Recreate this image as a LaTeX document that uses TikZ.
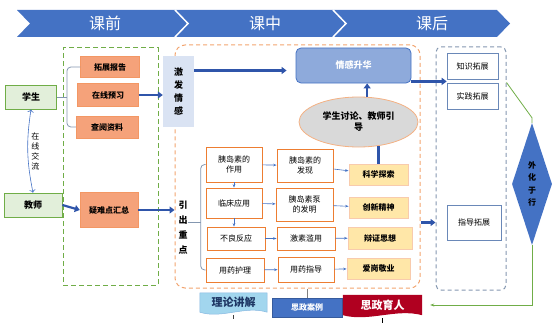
\documentclass[tikz,border=0pt]{standalone}
\usepackage{fontspec}
\setmainfont{Noto Sans CJK SC}
\usepackage{tikz}
\usetikzlibrary{arrows.meta,shapes.geometric,positioning,calc}
\definecolor{bandBlue}{RGB}{68,114,196}
\definecolor{flowBlue}{RGB}{47,85,170}
\definecolor{preGreen}{RGB}{112,173,71}
\definecolor{roleGreen}{RGB}{226,239,218}
\definecolor{midOrange}{RGB}{237,125,49}
\definecolor{taskOrange}{RGB}{245,162,122}
\definecolor{mistBlue}{RGB}{218,227,243}
\definecolor{liftBlue}{RGB}{142,170,219}
\definecolor{valueYellow}{RGB}{255,231,168}
\definecolor{postGray}{RGB}{132,151,176}
\definecolor{caseRed}{RGB}{176,0,32}
\definecolor{docBlue}{RGB}{162,214,238}
\definecolor{docInk}{RGB}{30,55,100}
\definecolor{inkGray}{RGB}{64,64,64}
\tikzset{
  phaseText/.style  = {text=white, font=\fontsize{16}{16}\selectfont},
  phaseFrame/.style = {rectangle, draw=#1, dashed, line width=1pt, inner sep=0pt},
  roleBox/.style    = {rectangle, draw=preGreen, fill=roleGreen, line width=0.8pt,
                       minimum height=24pt, font=\small\bfseries},
  taskBox/.style    = {rectangle, draw=taskOrange!70!midOrange, fill=taskOrange,
                       text=black, font=\footnotesize\bfseries, inner sep=0pt},
  upBox/.style      = {rectangle, fill=mistBlue, align=center, inner sep=0pt,
                       font=\fontsize{9}{13}\selectfont\bfseries},
  liftBox/.style    = {rectangle, rounded corners=5pt, draw=bandBlue, fill=liftBlue,
                       line width=0.8pt, text=white, font=\small\bfseries},
  talkEllipse/.style= {ellipse, draw=midOrange!60, fill=gray!30, line width=0.8pt,
                       align=center, inner sep=0pt, text=black, font=\small\bfseries},
  topicBox/.style   = {rectangle, draw=midOrange, fill=white, line width=0.8pt,
                       align=center, inner sep=0pt, font=\footnotesize},
  valueBox/.style   = {rectangle, draw=midOrange!40, fill=valueYellow, line width=0.8pt,
                       inner sep=0pt, text=black, font=\footnotesize\bfseries},
  extBox/.style     = {rectangle, draw=postGray!60!bandBlue, fill=white, line width=0.6pt,
                       inner sep=0pt, font=\footnotesize},
  tagText/.style    = {inner sep=0pt, font=\fontsize{11}{11}\selectfont\bfseries},
  flowArrow/.style  = {-{Triangle[length=5pt,width=7pt]}, line width=2.2pt, draw=flowBlue},
  thinArrow/.style  = {-{Stealth[length=3.5pt]}, draw=bandBlue, line width=0.6pt},
  braceLine/.style  = {draw=postGray, line width=0.8pt, rounded corners=4pt},
  greenLine/.style  = {draw=preGreen, line width=0.8pt},
}
\begin{document}
\begin{tikzpicture}[x=1pt, y=-1pt, font=\color{inkGray}]
  \useasboundingbox (0,0) rectangle (554,329);
  % banner
  \fill[bandBlue] (17,10) -- (497,10) -- (510,23.5) -- (497,37) -- (17,37) -- (30,23.5) -- cycle;
  \foreach \x in {175,333}{\draw[white, line width=1.5pt] (\x,10) -- (\x+13,23.5) -- (\x,37);}
  \node[phaseText] (pre)  at (105,23.5) {课前};
  \node[phaseText] (mid)  at (265,23.5) {课中};
  \node[phaseText] (post) at (432,23.5) {课后};
  % frames
  \node[phaseFrame=preGreen, dash pattern=on 5pt off 3pt,
        minimum width=95pt, minimum height=237pt] (preFrame) at (110.5,166.5) {};
  \node[phaseFrame=midOrange!70, rounded corners=10pt, dash pattern=on 4pt off 3pt,
        minimum width=245pt, minimum height=243pt] (midFrame) at (297.5,166.5) {};
  \node[phaseFrame=postGray, rounded corners=5pt, dash pattern=on 4pt off 3pt,
        minimum width=70pt, minimum height=243pt] (postFrame) at (471,168.5) {};
  % before class
  \node[roleBox, minimum width=51pt] (student) at (31,97) {学生};
  \node[roleBox, minimum width=58pt] (teacher) at (33,205) {教师};
  \node[taskBox, minimum width=59pt, minimum height=21pt] (tuozhan) at (110,67) {拓展报告};
  \node[taskBox, minimum width=61pt, minimum height=23pt] (zaixian) at (108,95) {在线预习};
  \node[taskBox, minimum width=62pt, minimum height=22pt] (chayue) at (107,127) {查阅资料};
  \node[taskBox, minimum width=58pt, minimum height=35pt] (yinan) at (109,210) {疑难点汇总};
  \draw[thinArrow, <->, bend right=10] (student.south) to
      node[right, align=center, font=\fontsize{8}{10}\selectfont]{在\\线\\交\\流} (teacher.north);
  \coordinate (stuJoin) at ([xshift=10pt]student.east);
  \draw[braceLine] (tuozhan.west) -| (stuJoin) |- (chayue.west);
  \draw[braceLine] (student.east) -- (stuJoin);
  \draw[flowArrow] (teacher.east) -- (yinan.west);
  % in class
  \node[upBox, minimum width=31pt, minimum height=71pt] (jifa) at (178.5,91.5) {激\\发\\情\\感};
  \node[liftBox, minimum width=115pt, minimum height=35pt] (shenghua) at (353.5,65.5) {情感升华};
  \node[talkEllipse, minimum width=119pt, minimum height=50pt] (taolun) at (358.5,122)
      {学生讨论、教师引\\导};
  \node[align=center, inner sep=0pt, font=\fontsize{9}{15}\selectfont\bfseries] (yinchu) at (183,228)
      {引\\出\\重\\点};
  \node[topicBox, minimum width=56pt, minimum height=35pt] (zuoyong) at (234,164.5) {胰岛素的\\作用};
  \node[topicBox, minimum width=56pt, minimum height=30pt] (linchuang) at (234,203) {临床应用};
  \node[topicBox, minimum width=58pt, minimum height=23pt] (buliang) at (236,238.5) {不良反应};
  \node[topicBox, minimum width=58pt, minimum height=24pt] (huli) at (235,270) {用药护理};
  \node[topicBox, minimum width=56pt, minimum height=33pt] (faxian) at (305,165.5) {胰岛素的\\发现};
  \node[topicBox, minimum width=57pt, minimum height=33pt] (beng) at (304.5,204.5) {胰岛素泵\\的发明};
  \node[topicBox, minimum width=58pt, minimum height=23pt] (lanyong) at (306,238.5) {激素滥用};
  \node[topicBox, minimum width=56pt, minimum height=25pt] (zhidao) at (306,269.5) {用药指导};
  \node[valueBox, minimum width=59pt, minimum height=21pt] (tansuo) at (378.5,174.5) {科学探索};
  \node[valueBox, minimum width=59pt, minimum height=21pt] (chuangxin) at (378.5,207.5) {创新精神};
  \node[valueBox, minimum width=64pt, minimum height=22pt] (bianzheng) at (380,238) {辩证思想};
  \node[valueBox, minimum width=63pt, minimum height=21pt] (aigang) at (378.5,268.5) {爱岗敬业};
  \draw[flowArrow] (zaixian.east) -- (zaixian.east -| jifa.west);
  \draw[flowArrow] (yinan.east) -- (yinan.east -| midFrame.west);
  \coordinate (jifaOut) at ([yshift=21pt]jifa.east);
  \draw[flowArrow, shorten >=9pt] (jifaOut) -- (jifaOut -| shenghua.west);
  \draw[flowArrow] (taolun.71) -- (taolun.71 |- shenghua.south);
  \draw[line width=2.2pt, draw=flowBlue] (taolun.-50) -- (taolun.-50 |- tansuo.north);
  \coordinate (keyJoin) at ([xshift=13pt, yshift=6pt]yinchu.east);
  \draw[braceLine] (zuoyong.west) -| (keyJoin) |- (huli.west);
  \draw[braceLine] (yinchu.east |- keyJoin) -- (keyJoin);
  \draw[thinArrow] (zuoyong) -- (linchuang);
  \draw[thinArrow] (linchuang.south) -- (linchuang.south |- buliang.north);
  \foreach \a/\b in {zuoyong/faxian,linchuang/beng,buliang/lanyong,huli/zhidao,
                     faxian/tansuo,beng/chuangxin,lanyong/bianzheng,zhidao/aigang}
    {\draw[thinArrow] (\a) -- (\b);}
  % bottom tags
  \node[inner sep=0pt, minimum width=67pt, minimum height=19pt] (lilun) at (233.5,302.5) {};
  \path[fill=docBlue, draw=docBlue!70!bandBlue, line width=0.5pt] (lilun.north west) -- (lilun.north east)
      -- (lilun.south east) .. controls ([xshift=-22pt,yshift=7pt]lilun.south east)
      and ([xshift=22pt,yshift=-7pt]lilun.south west) .. (lilun.south west) -- cycle;
  \node[tagText, text=docInk] at (lilun) {理论讲解};
  \node[rectangle, fill=bandBlue, draw=bandBlue!80!black, text=white, minimum width=70pt,
        minimum height=19pt, inner sep=0pt, font=\footnotesize\bfseries] (anli) at (307,307.5) {思政案例};
  \node[inner sep=0pt, minimum width=79pt, minimum height=20pt] (yuren) at (382.5,305) {};
  \path[fill=caseRed] (yuren.north west) -- (yuren.north east)
      -- (yuren.south east) .. controls ([xshift=-26pt,yshift=7pt]yuren.south east)
      and ([xshift=26pt,yshift=-7pt]yuren.south west) .. (yuren.south west) -- cycle;
  \node[tagText, text=white] at (yuren) {思政育人};
  \coordinate (lilunEnd) at ([yshift=-7pt]lilun.south);
  \coordinate (yurenEnd) at ([yshift=-8pt]yuren.south);
  \draw[inkGray, line width=0.8pt] ([yshift=-3pt]lilun.south) -- (lilunEnd);
  \draw[black, line width=1pt] ([yshift=-3pt]yuren.south) -- (yurenEnd);
  \draw[gray, line width=0.6pt] (anli.north) -- (anli.north |- midFrame.south);
  % after class
  \node[extBox, minimum width=51pt, minimum height=26pt] (zhishi) at (472.5,66) {知识拓展};
  \node[extBox, minimum width=51pt, minimum height=26pt] (shijian) at (472.5,96) {实践拓展};
  \node[extBox, minimum width=54pt, minimum height=35pt] (zhidaoExt) at (474,222.5) {指导拓展};
  \node[diamond, aspect=0.33, fill=bandBlue, minimum width=40pt, minimum height=122pt, inner sep=0pt,
        align=center, text=black, font=\fontsize{8}{12.5}\selectfont\bfseries] (waihua) at (532,184)
      {外\\化\\于\\行};
  \coordinate (liftOut) at ([yshift=2pt]shenghua.south east);
  \draw[flowArrow] (liftOut) -- (liftOut -| zhishi.west);
  \draw[flowArrow] (midFrame.east |- zhidaoExt) -- (postFrame.west |- zhidaoExt);
  \coordinate (greenBend) at ([yshift=5pt]waihua.north);
  \draw[greenLine] ([yshift=-36pt]postFrame.north east) -- (greenBend) -- (waihua.north);
  \draw[greenLine, -{Stealth[length=4pt]}] (waihua.south) |- ([xshift=8pt]yuren.east);
\end{tikzpicture}
\end{document}
